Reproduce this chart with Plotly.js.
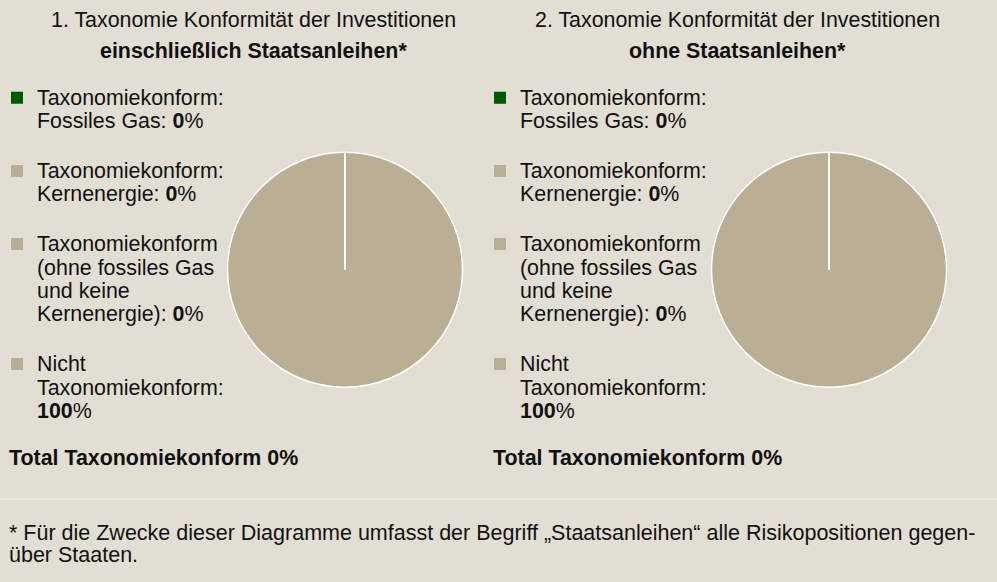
<!DOCTYPE html>
<html>
<head>
<meta charset="utf-8">
<script src="https://cdn.plot.ly/plotly-3.0.1.min.js"></script>
<style>
  html, body { margin: 0; padding: 0; background: #e2ded4; }
  #chart { width: 997px; height: 582px; }
</style>
</head>
<body>
<div id="chart"></div>
<script>
// ---- data ----
const categories = [
  "Taxonomiekonform:<br>Fossiles Gas: ",
  "Taxonomiekonform:<br>Kernenergie: ",
  "Taxonomiekonform<br>(ohne fossiles Gas<br>und keine<br>Kernenergie): ",
  "Nicht<br>Taxonomiekonform:<br>"
];
const valuesInclSovereign = [0, 0, 0, 100];
const valuesExclSovereign = [0, 0, 0, 100];
const sliceColors = ["#005a00", "#baae94", "#baae94", "#baae94"];
const chartTitles = [
  "1. Taxonomie Konformität der Investitionen",
  "2. Taxonomie Konformität der Investitionen"
];
const chartSubtitles = ["einschließlich Staatsanleihen*", "ohne Staatsanleihen*"];
const totalLabel = "Total Taxonomiekonform";
const totalValues = [0, 0];
const footnoteLines = [
  "* Für die Zwecke dieser Diagramme umfasst der Begriff „Staatsanleihen“ alle Risikopositionen gegen-",
  "über Staaten."
];

const W = 997, H = 582;
const FONT = "Liberation Sans, Arial, Helvetica, sans-serif";
const TXT = "#111111";
const FS = 21.4;
const R = 117.5, CY = 269.8;
const centersX = [345, 829];

function legendLabels(vals, k) {
  // style string differs slightly per chart so each legend keeps its own entries
  const st = k === 0 ? "font-size:" + FS + "px" : "font-size:" + FS + "px;";
  return categories.map((c, i) =>
    '<span style="' + st + '">' + c + '<b>' + vals[i] + '</b>%</span><br> ');
}

function pieTrace(vals, k, legendId) {
  const cx = centersX[k];
  return {
    type: "pie",
    labels: legendLabels(vals, k),
    values: vals,
    sort: false,
    direction: "counterclockwise",
    rotation: 0,
    textinfo: "none",
    hoverinfo: "percent",
    marker: { colors: sliceColors, line: { color: "#ffffff", width: 0 } },
    domain: {
      x: [(cx - R) / W, (cx + R) / W],
      y: [(H - CY - R) / H, (H - CY + R) / H]
    },
    legend: legendId,
    showlegend: true
  };
}

const data = [
  pieTrace(valuesInclSovereign, 0, "legend"),
  pieTrace(valuesExclSovereign, 1, "legend2")
];

const legendBase = {
  font: { family: FONT, size: 18, color: TXT },
  bgcolor: "rgba(0,0,0,0)",
  valign: "top",
  xanchor: "left",
  yanchor: "top",
  y: 1 - 79.5 / H,
  itemclick: false,
  itemdoubleclick: false
};

const annotations = [];
const offsets = [0, 484];
offsets.forEach((dx, k) => {
  annotations.push({
    xref: "paper", yref: "paper", x: (253.5 + dx) / W, y: 1 - 20.5 / H,
    xanchor: "center", yanchor: "middle", showarrow: false,
    text: chartTitles[k], font: { family: FONT, size: FS, color: TXT }
  });
  annotations.push({
    xref: "paper", yref: "paper", x: (253.5 + dx) / W, y: 1 - 50.5 / H,
    xanchor: "center", yanchor: "middle", showarrow: false,
    text: "<b>" + chartSubtitles[k] + "</b>", font: { family: FONT, size: FS, color: TXT }
  });
  annotations.push({
    xref: "paper", yref: "paper", x: (7 + dx) / W, y: 1 - 458 / H,
    xanchor: "left", yanchor: "middle", showarrow: false,
    text: "<b>" + totalLabel + " " + totalValues[k] + "%</b>", font: { family: FONT, size: FS, color: TXT }
  });
});
footnoteLines.forEach((t, i) => {
  annotations.push({
    xref: "paper", yref: "paper", x: 7 / W, y: 1 - (533 + 22 * i) / H,
    xanchor: "left", yanchor: "middle", showarrow: false,
    text: t, font: { family: FONT, size: 21.5, color: TXT }
  });
});

// white outline of each pie and the boundary of its zero-value slices (top radius)
const shapes = [];
centersX.forEach(cx => {
  shapes.push({
    type: "circle", xref: "paper", yref: "paper",
    x0: (cx - R) / W, x1: (cx + R) / W,
    y0: (H - CY - R) / H, y1: (H - CY + R) / H,
    line: { color: "#ffffff", width: 1.5 }, fillcolor: "rgba(0,0,0,0)"
  });
  shapes.push({
    type: "line", xref: "paper", yref: "paper",
    x0: cx / W, x1: cx / W, y0: (H - CY) / H, y1: (H - CY + R) / H,
    line: { color: "#ffffff", width: 2 }
  });
});
shapes.push({
  type: "line", xref: "paper", yref: "paper",
  x0: 0, x1: 1, y0: 1 - 499 / H, y1: 1 - 499 / H,
  line: { color: "#eeebe4", width: 1 }
});

const layout = {
  width: W, height: H,
  margin: { l: 0, r: 0, t: 0, b: 0 },
  paper_bgcolor: "#e2ded4",
  plot_bgcolor: "#e2ded4",
  font: { family: FONT, color: TXT },
  legend: Object.assign({}, legendBase, { x: 0, indentation: -3 }),
  legend2: Object.assign({}, legendBase, { x: 480 / W }),
  annotations: annotations,
  shapes: shapes
};

Plotly.newPlot("chart", data, layout, { displayModeBar: false });
</script>
</body>
</html>
